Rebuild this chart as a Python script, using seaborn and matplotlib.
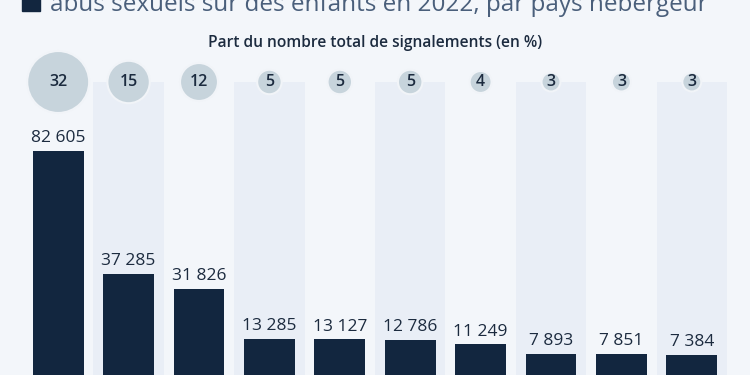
import matplotlib
matplotlib.use("Agg")
import matplotlib.pyplot as plt
import seaborn as sns
import pandas as pd

# Data
rangs = ["1", "2", "3", "4", "5", "6", "7", "8", "9", "10"]
signalements = [82605, 37285, 31826, 13285, 13127, 12786, 11249, 7893, 7851, 7384]
parts = [32, 15, 12, 5, 5, 5, 4, 3, 3, 3]

titre = "abus sexuels sur des enfants en 2022, par pays hébergeur"
sous_titre = "Part du nombre total de signalements (en %)"

df = pd.DataFrame({"rang": rangs, "signalements": signalements, "part": parts})

bg = "#f3f6fa"
band = "#e9eef6"
navy = "#12263f"
circle = "#c7d4dc"
txt = "#1c2b3f"

sns.set_theme(style="white")
plt.rcParams["font.family"] = ["Open Sans", "DejaVu Sans"]

fig = plt.figure(figsize=(7.5, 3.75), dpi=100, facecolor=bg)
ax = fig.add_axes([23 / 750, 0, 704 / 750, 1])
ax.set_facecolor(bg)

# scale: 224 px for the tallest bar, axes is 375 px high
ymax = max(signalements) * 375 / 224
top = max(signalements) * (375 - 82) / 224

for i in range(len(rangs)):
    if i % 2 == 1:
        ax.fill_between([i - 0.5, i + 0.5], 0, top, color=band, lw=0, zorder=0)

sns.barplot(data=df, x="rang", y="signalements", order=rangs, color=navy,
            saturation=1, width=0.72, linewidth=0, ax=ax, zorder=2)

for i, v in enumerate(signalements):
    ax.text(i, v + ymax * 0.013, f"{v:,}".replace(",", " "), ha="center",
            va="bottom", fontsize=12.5, color=txt, zorder=3)

# bubbles, area proportional to share
sizes = [1990 * p / max(parts) for p in parts]
ax.scatter(range(len(rangs)), [top] * len(rangs), s=sizes, color=circle,
           edgecolor="#f1f4f8", linewidth=1.5, zorder=4, clip_on=False)
for i, p in enumerate(parts):
    ax.text(i, top, str(p), ha="center", va="center", fontsize=11.5,
            fontweight="semibold", color=txt, zorder=5)

ax.set_xlim(-0.5, len(rangs) - 0.5)
ax.set_ylim(0, ymax)
ax.set_xticks([])
ax.set_yticks([])
ax.set_xlabel("")
ax.set_ylabel("")
sns.despine(ax=ax, left=True, bottom=True)

# title (cut at the top in the reference) and subtitle
fig.patches.append(plt.Rectangle((22 / 750, 1 - 11 / 375), 18 / 750, 18 / 375,
                                 transform=fig.transFigure, color=navy))
fig.text(50 / 750, 1 - 11 / 375, titre, fontsize=17.5, color="#4a5f7b",
         ha="left", va="baseline")
fig.text(0.5, 1 - 43 / 375, sous_titre, fontsize=11.2, fontweight="semibold",
         color=txt, ha="center", va="center")

fig.savefig("out.png", dpi=100, facecolor=bg)
